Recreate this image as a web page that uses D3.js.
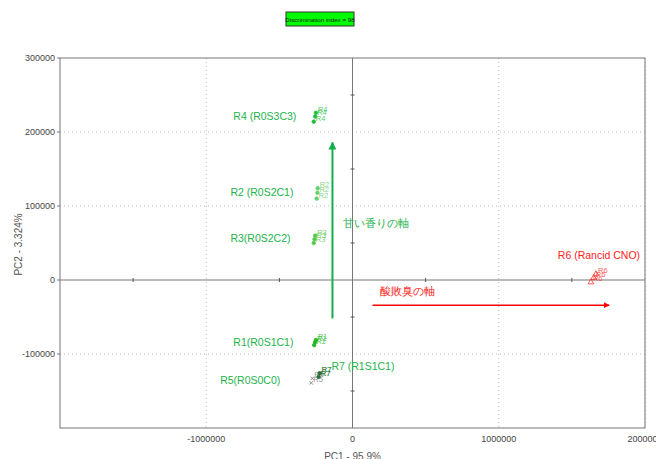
<!DOCTYPE html>
<html>
<head>
<meta charset="utf-8">
<script src="https://cdn.jsdelivr.net/npm/d3@7"></script>
<style>
  body { margin: 0; background: #fff; }
  svg { display: block; font-family: "Liberation Sans", Arial, sans-serif; }
  .tick-label { font-size: 9px; fill: #444; }
  .axis-title { font-size: 10px; fill: #555; }
</style>
</head>
<body>
<svg id="chart"></svg>
<script>
// sample scores (PC1, PC2)
const sampleNames = ['R4', 'R4', 'R4', 'R2', 'R2', 'R2', 'R3', 'R3', 'R3',
                     'R1', 'R1', 'R1', 'R5', 'R5', 'R7', 'R7', 'R6', 'R6', 'R6'];
const pc1Scores = [-265000, -255000, -250000, -245000, -240000, -238000, -265000, -260000, -255000,
                   -262000, -256000, -250000, -282000, -275000, -232000, -225000, 1630000, 1650000, 1665000];
const pc2Scores = [214000, 221000, 226000, 110000, 118000, 124000, 50000, 55000, 60000,
                   -88000, -84000, -81000, -139000, -133000, -131000, -126000, -3000, 3000, 8000];

// group annotations
const groupNames = ['R4', 'R2', 'R3', 'R1', 'R5', 'R7', 'R6'];
const groupLabels = ['R4 (R0S3C3)', 'R2 (R0S2C1)', 'R3(R0S2C2)', 'R1(R0S1C1)', 'R5(R0S0C0)', 'R7 (R1S1C1)', 'R6 (Rancid CNO)'];
const groupLabelX = [-815000, -835000, -835000, -815000, -905000, -144000, 1404000];
const groupLabelY = [216000, 113000, 51000, -89000, -140000, -122000, 28000];

const xTicks = [-1000000, 0, 1000000, 2000000];
const yTicks = [-100000, 0, 100000, 200000, 300000];
const xMinorTicks = [-1500000, -500000, 500000, 1500000];
const yMinorTicks = [-150000, -50000, 50000, 150000, 250000];

const colorOf = {
  R4: '#1fbf3a', R2: '#5fd06a', R3: '#55c84a', R1: '#22b822',
  R5: '#7a7a7a', R7: '#156b25', R6: '#ff3030'
};
const labelGreen = '#22b34c';

const width = 656, height = 459;
const margin = {top: 58, right: 11, bottom: 31, left: 60};

const svg = d3.select('#chart')
    .attr('width', width)
    .attr('height', height);

const xScale = d3.scaleLinear()
    .domain([-2000000, 2000000])
    .range([margin.left, width - margin.right]);

const yScale = d3.scaleLinear()
    .domain([-200000, 300000])
    .range([height - margin.bottom, margin.top]);

const [x0, x1] = xScale.range();
const [y1, y0] = yScale.range();

// dotted grid at the major ticks
const grid = svg.append('g').attr('class', 'grid');
grid.selectAll('.vgrid')
    .data(xTicks.filter(d => d !== 0))
    .join('line')
    .attr('x1', d => xScale(d)).attr('x2', d => xScale(d))
    .attr('y1', y0).attr('y2', y1)
    .attr('stroke', '#bbb').attr('stroke-dasharray', '1,3');
grid.selectAll('.hgrid')
    .data(yTicks.filter(d => d !== 0 && d !== 300000))
    .join('line')
    .attr('x1', x0).attr('x2', x1)
    .attr('y1', d => yScale(d)).attr('y2', d => yScale(d))
    .attr('stroke', '#bbb').attr('stroke-dasharray', '1,3');

// frame
svg.append('rect')
    .attr('x', x0).attr('y', y0)
    .attr('width', x1 - x0).attr('height', y1 - y0)
    .attr('fill', 'none')
    .attr('stroke', '#777');

// zero axes with small ticks
svg.append('line')
    .attr('x1', x0).attr('x2', x1)
    .attr('y1', yScale(0)).attr('y2', yScale(0))
    .attr('stroke', '#777');
svg.append('line')
    .attr('x1', xScale(0)).attr('x2', xScale(0))
    .attr('y1', y0).attr('y2', y1)
    .attr('stroke', '#777');
svg.selectAll('.xminor')
    .data(xMinorTicks)
    .join('line')
    .attr('x1', d => xScale(d)).attr('x2', d => xScale(d))
    .attr('y1', yScale(0) - 2).attr('y2', yScale(0) + 2)
    .attr('stroke', '#555');
svg.selectAll('.yminor')
    .data(yMinorTicks)
    .join('line')
    .attr('x1', xScale(0) - 2).attr('x2', xScale(0) + 2)
    .attr('y1', d => yScale(d)).attr('y2', d => yScale(d))
    .attr('stroke', '#555');

// tick labels
svg.selectAll('.ylab')
    .data(yTicks)
    .join('text')
    .attr('class', 'tick-label')
    .attr('x', x0 - 5)
    .attr('y', d => yScale(d) + 3)
    .attr('text-anchor', 'end')
    .text(d => d);
svg.selectAll('.ytick')
    .data(yTicks)
    .join('line')
    .attr('x1', x0 - 3).attr('x2', x0)
    .attr('y1', d => yScale(d)).attr('y2', d => yScale(d))
    .attr('stroke', '#777');
svg.selectAll('.xlab')
    .data(xTicks)
    .join('text')
    .attr('class', 'tick-label')
    .attr('x', d => xScale(d))
    .attr('y', y1 + 14)
    .attr('text-anchor', 'middle')
    .text(d => d);

// axis titles
svg.append('text')
    .attr('class', 'axis-title')
    .attr('transform', `translate(22, ${yScale(48000)})rotate(-90)`)
    .attr('text-anchor', 'middle')
    .text('PC2 - 3.324%');
svg.append('text')
    .attr('class', 'axis-title')
    .attr('x', xScale(0))
    .attr('y', height + 1)
    .attr('text-anchor', 'middle')
    .text('PC1 - 95.9%');

// title box
const titleG = svg.append('g').attr('transform', 'translate(286, 12)');
titleG.append('rect')
    .attr('width', 68).attr('height', 14)
    .attr('fill', '#00ff00')
    .attr('stroke', '#333');
titleG.append('text')
    .attr('x', 34).attr('y', 9.5)
    .attr('text-anchor', 'middle')
    .attr('font-size', '6.2px')
    .attr('fill', '#111')
    .text('Discrimination index = 98');

// arrows
const defs = svg.append('defs');
[['arrow-green', '#12b04a'], ['arrow-red', '#ff0000']].forEach(([id, c]) => {
  defs.append('marker')
      .attr('id', id)
      .attr('viewBox', '0 0 10 10')
      .attr('refX', 9).attr('refY', 5)
      .attr('markerWidth', 4).attr('markerHeight', 4)
      .attr('orient', 'auto')
      .append('path')
      .attr('d', 'M0,0L10,5L0,10Z')
      .attr('fill', c);
});
svg.append('line')
    .attr('x1', xScale(-137000)).attr('x2', xScale(-137000))
    .attr('y1', yScale(-52000)).attr('y2', yScale(186000))
    .attr('stroke', '#12b04a').attr('stroke-width', 2)
    .attr('marker-end', 'url(#arrow-green)');
svg.append('line')
    .attr('x1', xScale(137000)).attr('x2', xScale(1755000))
    .attr('y1', yScale(-34000)).attr('y2', yScale(-34000))
    .attr('stroke', '#ff0000').attr('stroke-width', 1.5)
    .attr('marker-end', 'url(#arrow-red)');
svg.append('text')
    .attr('x', xScale(-68000)).attr('y', yScale(71000))
    .attr('font-size', '10.5px')
    .attr('fill', labelGreen)
    .text('甘い香りの軸');
svg.append('text')
    .attr('x', xScale(185000)).attr('y', yScale(-20000))
    .attr('font-size', '10.5px')
    .attr('fill', '#ff2020')
    .text('酸敗臭の軸');

// sample points
const samples = sampleNames.map((n, i) => ({name: n, pc1: pc1Scores[i], pc2: pc2Scores[i]}));
const pts = svg.append('g').attr('class', 'points');
pts.selectAll('path')
    .data(samples)
    .join('path')
    .attr('transform', d => `translate(${xScale(d.pc1)},${yScale(d.pc2)})`)
    .attr('d', d => {
      if (d.name === 'R6') return d3.symbol(d3.symbolTriangle, 14)();
      if (d.name === 'R5') return d3.symbol(d3.symbolX, 10)();
      return d3.symbol(d3.symbolCircle, 10)();
    })
    .attr('fill', d => (d.name === 'R6' || d.name === 'R5') ? 'none' : colorOf[d.name])
    .attr('stroke', d => colorOf[d.name])
    .attr('stroke-width', 0.8);
pts.selectAll('text')
    .data(samples)
    .join('text')
    .attr('x', d => xScale(d.pc1) + 2)
    .attr('y', d => yScale(d.pc2) - 1)
    .attr('font-size', d => d.name === 'R7' ? '8px' : '7.5px')
    .attr('font-weight', d => d.name === 'R7' ? 'bold' : 'normal')
    .attr('fill', d => colorOf[d.name])
    .attr('fill-opacity', 0.8)
    .text(d => d.name);

// group labels
svg.selectAll('.group-label')
    .data(groupNames)
    .join('text')
    .attr('class', 'group-label')
    .attr('x', (d, i) => xScale(groupLabelX[i]))
    .attr('y', (d, i) => yScale(groupLabelY[i]))
    .attr('font-size', '10.5px')
    .attr('fill', d => d === 'R6' ? '#ff2020' : labelGreen)
    .text((d, i) => groupLabels[i]);
</script>
</body>
</html>
